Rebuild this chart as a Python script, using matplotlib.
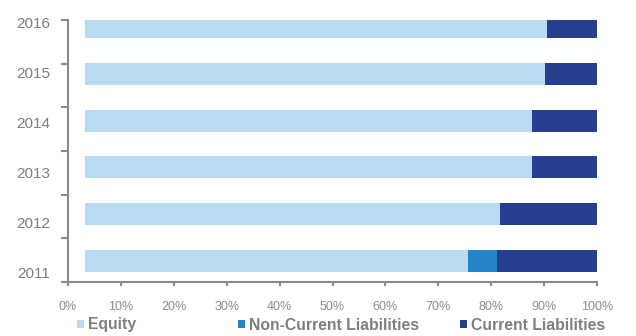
import numpy as np
import matplotlib
matplotlib.use('Agg')
import matplotlib.pyplot as plt
from matplotlib.patches import Patch

# data (percent of total, as drawn against the axis)
years = ['2011', '2012', '2013', '2014', '2015', '2016']
bar_start = 3.2
equity = [72.4, 78.5, 84.5, 84.5, 87.0, 87.3]
non_current = [5.5, 0, 0, 0, 0, 0]
current = [18.9, 18.3, 12.3, 12.3, 9.8, 9.5]
series_names = ['Equity', 'Non-Current Liabilities', 'Current Liabilities']
colors = ['#B8DAF3', '#2584C7', '#263E8E']
x_ticks = list(range(0, 101, 10))

plt.rcParams['font.family'] = ['Liberation Sans', 'DejaVu Sans']
grey = '#7f7f7f'
spine_grey = '#8a8a8a'

fig = plt.figure(figsize=(6.36, 3.36), dpi=100)
ax = fig.add_axes([68 / 636, 54 / 336, 529 / 636, 262 / 336])

y = np.arange(len(years))
left = np.full(len(years), bar_start)
for vals, name, col in zip([equity, non_current, current], series_names, colors):
    ax.barh(y, vals, left=left, height=0.47, color=col, label=name)
    left = left + np.array(vals)

ax.set_xlim(0, 100)
ax.set_ylim(-0.45, 5.15)

for side in ['top', 'right']:
    ax.spines[side].set_visible(False)
for side in ['left', 'bottom']:
    ax.spines[side].set_color(spine_grey)
    ax.spines[side].set_linewidth(1.5)

ax.set_xticks(x_ticks)
ax.set_xticklabels(['{}%'.format(t) for t in x_ticks], fontsize=9, color='#8c8c8c')
ax.tick_params(axis='x', length=3, width=1.5, color=spine_grey, pad=11)

# year labels spread slightly wider than the bars, as in the original
ax.set_yticks(2.5 + (y - 2.5) * 1.07 - 0.07)
ax.set_yticklabels(years, fontsize=11, color=grey)
ax.tick_params(axis='y', length=0, pad=13)
ax.set_yticks(np.linspace(ax.get_ylim()[0], ax.get_ylim()[1], 7), minor=True)
ax.tick_params(axis='y', which='minor', length=5, width=1.5, color=spine_grey)

legend_x = [77, 238, 460]
for name, col, lx in zip(series_names, colors, legend_x):
    leg = fig.legend(handles=[Patch(facecolor=col, edgecolor='none')], labels=[name],
                     loc='center left', bbox_to_anchor=(lx / 636, 1 - 325 / 336),
                     frameon=False, borderpad=0, borderaxespad=0,
                     handlelength=0.45, handleheight=0.45, handletextpad=0.25,
                     prop={'weight': 'bold', 'size': 11.3})
    for t in leg.get_texts():
        t.set_color(grey)

fig.savefig('out.png', dpi=100)
